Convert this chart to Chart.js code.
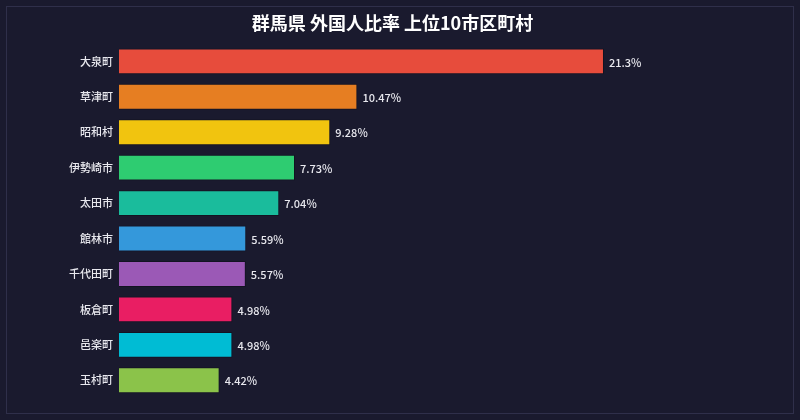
<!DOCTYPE html>
<html>
<head>
    <meta charset="utf-8">
    <script src="https://cdn.jsdelivr.net/npm/chart.js@4/dist/chart.umd.min.js"></script>
    <style>
        html, body { margin: 0; padding: 0; background: #1a1a2e; }
        #wrap { width: 800px; height: 420px; }
    </style>
</head>
<body>
    <div id="wrap"><canvas id="chart" width="800" height="420"></canvas></div>
<script>
    var categories = ['大泉町', '草津町', '昭和村', '伊勢崎市', '太田市', '館林市', '千代田町', '板倉町', '邑楽町', '玉村町'];
    var ratios = [21.3, 10.47, 9.28, 7.73, 7.04, 5.59, 5.57, 4.98, 4.98, 4.42];
    var barColors = ['#e74c3c', '#e67e22', '#f1c40f', '#2ecc71', '#1abc9c', '#3498db', '#9b59b6', '#e91e63', '#00bcd4', '#8bc34a'];

    var font = "'Noto Sans CJK JP', 'Noto Sans', sans-serif";

    // frame + value labels
    var decor = {
        id: 'decor',
        beforeDraw: function (chart) {
            var ctx = chart.ctx;
            ctx.save();
            ctx.fillStyle = '#1a1a2e';
            ctx.fillRect(0, 0, chart.width, chart.height);
            ctx.strokeStyle = '#2f2f4a';
            ctx.lineWidth = 1;
            ctx.strokeRect(6.5, 6.5, chart.width - 13, chart.height - 13);
            ctx.restore();
        },
        afterDatasetsDraw: function (chart) {
            var ctx = chart.ctx;
            var meta = chart.getDatasetMeta(0);
            ctx.save();
            ctx.fillStyle = '#e8e8ee';
            ctx.font = '500 11px ' + font;
            ctx.textAlign = 'left';
            ctx.textBaseline = 'middle';
            meta.data.forEach(function (bar, i) {
                ctx.fillText(ratios[i] + '%', bar.x + 5, bar.y + 1);
            });
            ctx.restore();
        }
    };

    new Chart('chart', {
        type: 'bar',
        data: {
            labels: categories,
            datasets: [{
                data: ratios,
                backgroundColor: barColors,
                borderColor: 'rgba(0,0,0,0.25)',
                borderWidth: 1,
                barPercentage: 0.82,
                categoryPercentage: 0.89
            }]
        },
        options: {
            indexAxis: 'y',
            responsive: false,
            animation: false,
            layout: { padding: { left: 0, right: 15, top: 0, bottom: 22 } },
            plugins: {
                legend: { display: false },
                tooltip: { enabled: false },
                title: {
                    display: true,
                    text: '群馬県 外国人比率 上位10市区町村',
                    color: '#ffffff',
                    font: { family: font, size: 18, weight: 'bold' },
                    padding: { top: 12, bottom: 10 }
                }
            },
            scales: {
                x: { display: false, min: 0, max: 29.25 },
                y: {
                    grid: { display: false, drawTicks: false },
                    border: { display: false },
                    ticks: {
                        color: '#e8e8ee',
                        padding: 6,
                        font: { family: font, size: 11, weight: '500' }
                    },
                    afterFit: function (scale) { scale.width = 119; }
                }
            }
        },
        plugins: [decor]
    });
</script>
</body>
</html>
